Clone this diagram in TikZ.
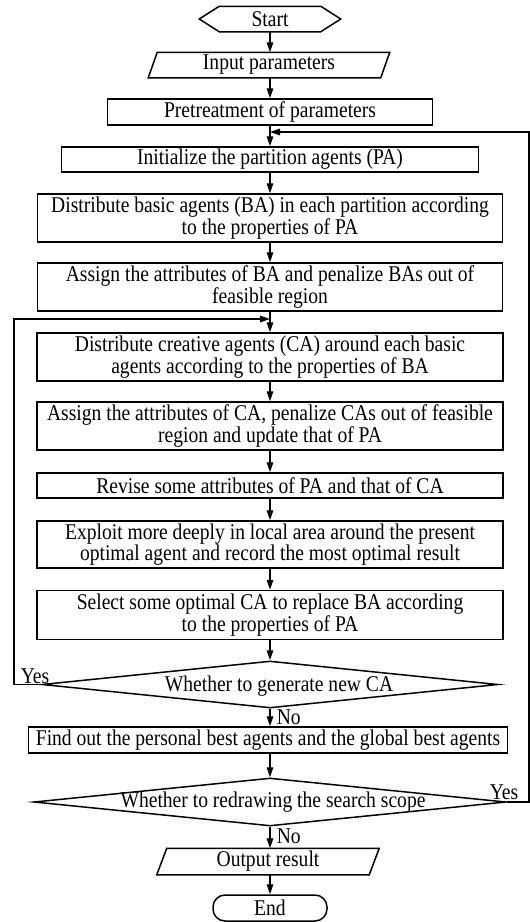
\documentclass[tikz,border=0pt]{standalone}
\usepackage{fontspec}
\setmainfont{Liberation Serif}[FakeStretch=0.87]
\usetikzlibrary{arrows.meta,shapes.geometric,calc}
\begin{document}
\begin{tikzpicture}[x=1pt,y=-1pt,line width=1.5pt,
  every node/.style={font=\fontsize{22.5}{20}\selectfont, inner sep=0pt},
  box/.style={draw, minimum height=#1, align=center},
  box/.default=25pt,
  arr/.style={-{Triangle[length=10pt,width=6.5pt]}},
  dia/.style={draw, diamond, inner sep=0pt}
]
\useasboundingbox (0,0) rectangle (530,922);

% Start (hexagon)
\node[minimum width=100pt, minimum height=24pt] (start) at (270,19) {Start};
\draw (start.north west) -- (start.north east) -- ([xshift=20pt]start.east)
  -- (start.south east) -- (start.south west) -- ([xshift=-20pt]start.west) -- cycle;

% Input (parallelogram)
\node[minimum width=231pt, minimum height=24pt] (input) at (269,65) {Input parameters};
\draw ([xshift=4.5pt]input.north west) -- ([xshift=4.5pt]input.north east)
  -- ([xshift=-4.5pt]input.south east) -- ([xshift=-4.5pt]input.south west) -- cycle;

\node[box=26pt, minimum width=325pt] (pre) at (270,112) {Pretreatment of parameters};
\node[box=25pt, minimum width=417pt] (init) at (270,159.5) {Initialize the partition agents (PA)};
\node[box=48pt, minimum width=465pt] (dba) at (270,218) {Distribute basic agents (BA) in each partition according\\to the properties of PA};
\node[box=48pt, minimum width=465pt] (aba) at (270,287) {Assign the attributes of BA and penalize BAs out of\\feasible region};
\node[box=48pt, minimum width=466pt] (dca) at (270,357) {Distribute creative agents (CA) around each basic\\agents according to the properties of BA};
\node[box=48pt, minimum width=466pt] (aca) at (270,426) {Assign the attributes of CA, penalize CAs out of feasible\\region and update that of PA};
\node[box=25pt, minimum width=466pt] (rev) at (270,485.5) {Revise some attributes of PA and that of CA};
\node[box=47pt, minimum width=466pt] (exp) at (270,544.5) {Exploit more deeply in local area around the present\\optimal agent and record the most optimal result};
\node[box=49pt, minimum width=466pt] (sel) at (270,615) {Select some optimal CA to replace BA according\\to the properties of PA};

\node[dia, minimum width=456pt, minimum height=47pt] (d1) at (270,684.5) {};
\node (d1t) at (279,686) {Whether to generate new CA};

\node[box=26pt, minimum width=479pt] (find) at (268,740) {Find out the personal best agents and the global best agents};

\node[dia, minimum width=472pt, minimum height=48pt] (d2) at (270,802) {};
\node (d2t) at (273,802) {Whether to redrawing the search scope};

% Output (parallelogram)
\node[minimum width=211pt, minimum height=25pt] (out) at (268,861.5) {Output result};
\draw ([xshift=5pt]out.north west) -- ([xshift=5pt]out.north east)
  -- ([xshift=-5pt]out.south east) -- ([xshift=-5pt]out.south west) -- cycle;

\node[draw, rounded corners=12pt, minimum width=114pt, minimum height=26pt] (end) at (270,908) {End};

% connectors
\draw[arr] (start.south) -- (start.south |- input.north);
\draw[arr] (start.south |- input.south) -- (pre.north);
\draw[arr] (pre.south) -- (init.north);
\draw[arr] (init.south) -- (dba.north);
\draw[arr] (dba.south) -- (aba.north);
\draw[arr] (aba.south) -- (dca.north);
\draw[arr] (dca.south) -- (aca.north);
\draw[arr] (aca.south) -- (rev.north);
\draw[arr] (rev.south) -- (exp.north);
\draw[arr] (exp.south) -- (sel.north);
\draw[arr] (sel.south) -- (d1.north);
\draw[arr] (d1.south) -- (d1.south |- find.north);
\draw[arr] (d2.north |- find.south) -- (d2.north);
\draw[arr] (d2.south) -- (d2.south |- out.north);
\draw[arr] (end.north |- out.south) -- (end.north);

% loops
\coordinate (j1) at (270,132);
\coordinate (j2) at (270,319);
\coordinate (rc) at (529.2,132);
\coordinate (lc) at (14,319);
\draw[arr] (d2.east) -| (rc) -- (j1);
\draw[arr] (d1.west) -| (lc) -- (j2);

% labels
\node[anchor=south west] (yes1) at (20,684) {Yes};
\node[anchor=west] (no1) at (276,717) {No};
\node[anchor=south] (yes2) at (504,800) {Yes};
\node[anchor=west] (no2) at (276,836.5) {No};
\end{tikzpicture}
\end{document}
